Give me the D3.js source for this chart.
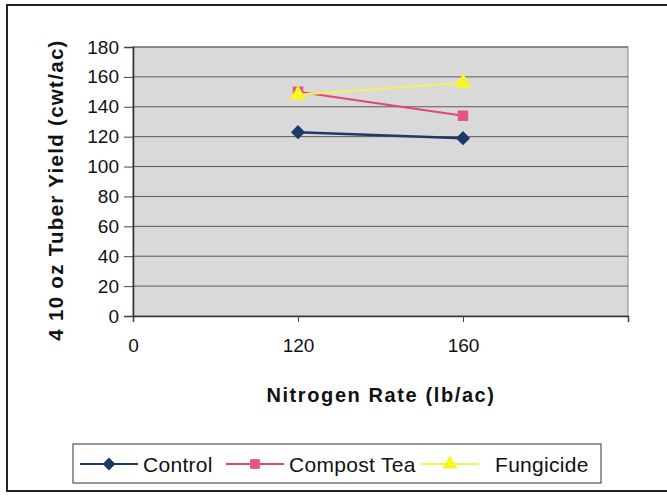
<!DOCTYPE html>
<html><head><meta charset="utf-8">
<script src="https://cdn.jsdelivr.net/npm/d3@7"></script>
<style>body{margin:0;background:#fff}svg{display:block}text{font-family:"Liberation Sans",Arial,sans-serif}</style>
</head><body><svg id="c" width="667" height="496"></svg>
<script>
const categories = ["0", "120", "160", ""];
const seriesNames = ["Control", "Compost Tea", "Fungicide"];
const controlValues = [null, 123, 119, null];
const compostTeaValues = [null, 150, 134, null];
const fungicideValues = [null, 148, 156, null];
const yTicks = [0, 20, 40, 60, 80, 100, 120, 140, 160, 180];
const colors = ["#1c3a66", "#e0457b", "#f2f25a"];
const markerColors = ["#1c3a66", "#e8508a", "#f8f820"];

const svg = d3.select("#c");
// outer frame
svg.append("rect").attr("x",7).attr("y",5).attr("width",680).attr("height",486)
  .attr("fill","#fff").attr("stroke","#222").attr("stroke-width",2);

const L=133,R=628,T=47,B=316;
const x = d3.scalePoint().domain(categories.map((d,i)=>i)).range([L,R]);
const y = d3.scaleLinear().domain([0,180]).range([B,T]);

svg.append("rect").attr("x",L).attr("y",T).attr("width",R-L).attr("height",B-T)
  .attr("fill","#d9d9d9").attr("stroke","#888").attr("stroke-width",1);

// gridlines
svg.append("g").selectAll("line").data(yTicks.slice(1)).join("line")
  .attr("x1",L).attr("x2",R).attr("y1",d=>y(d)).attr("y2",d=>y(d))
  .attr("stroke","#5a5a5a").attr("stroke-width",1);

// y axis
const ya = svg.append("g").attr("transform",`translate(${L},0)`)
  .call(d3.axisLeft(y).tickValues(yTicks).tickSize(9).tickPadding(5));
ya.select(".domain").attr("stroke","#333").attr("stroke-width",1.5);
ya.selectAll(".tick line").attr("stroke","#444");
ya.selectAll("text").attr("font-size",19).attr("fill","#111");

// x axis
const xa = svg.append("g").attr("transform",`translate(0,${B})`)
  .call(d3.axisBottom(x).tickFormat(i=>categories[i]).tickSize(6).tickPadding(17));
xa.select(".domain").attr("stroke","#333").attr("stroke-width",1.5);
xa.selectAll(".tick line").attr("stroke","#444");
xa.selectAll("text").attr("font-size",19).attr("fill","#111");

// titles
svg.append("text").attr("transform","translate(63,190) rotate(-90)").attr("text-anchor","middle")
  .attr("font-size",20.5).attr("font-weight","bold").attr("letter-spacing",1.3).attr("fill","#111")
  .text("4 10 oz Tuber Yield (cwt/ac)");
svg.append("text").attr("x",381).attr("y",402).attr("text-anchor","middle").attr("letter-spacing",1.6)
  .attr("font-size",20).attr("font-weight","bold").attr("fill","#111").text("Nitrogen Rate (lb/ac)");

const allSeries = [controlValues, compostTeaValues, fungicideValues];
const line = d3.line().defined(d=>d.v!=null).x(d=>x(d.i)).y(d=>y(d.v));
const markerSym = [d3.symbolSquare, d3.symbolSquare, d3.symbolTriangle];
const markerRot = [45, 0, 0];
const markerSize = [100, 110, 120];

allSeries.forEach((vals,s)=>{
  const pts = vals.map((v,i)=>({v,i}));
  svg.append("path").datum(pts).attr("d",line).attr("fill","none")
    .attr("stroke",colors[s]).attr("stroke-width", s===0?2.5:2);
  svg.append("g").selectAll("path").data(pts.filter(d=>d.v!=null)).join("path")
    .attr("transform",d=>`translate(${x(d.i)},${y(d.v)}) rotate(${markerRot[s]})`)
    .attr("d",d3.symbol().type(markerSym[s]).size(markerSize[s]))
    .attr("fill",markerColors[s]);
});

// legend
svg.append("rect").attr("x",73).attr("y",444).attr("width",528).attr("height",39)
  .attr("fill","#fff").attr("stroke","#333").attr("stroke-width",1);
const legX = [80, 226, 421];
const textX = [143, 289, 495];
seriesNames.forEach((n,s)=>{
  const cy = 464;
  svg.append("line").attr("x1",legX[s]).attr("x2",legX[s]+58).attr("y1",cy).attr("y2",cy)
    .attr("stroke",colors[s]).attr("stroke-width",2);
  svg.append("path").attr("transform",`translate(${legX[s]+29},${cy}) rotate(${markerRot[s]})`)
    .attr("d",d3.symbol().type(markerSym[s]).size(markerSize[s]*0.85)).attr("fill",markerColors[s]);
  svg.append("text").attr("x",textX[s]).attr("y",cy+8).attr("font-size",21).attr("letter-spacing",0.3)
    .attr("fill","#111").text(n);
});
</script></body></html>
